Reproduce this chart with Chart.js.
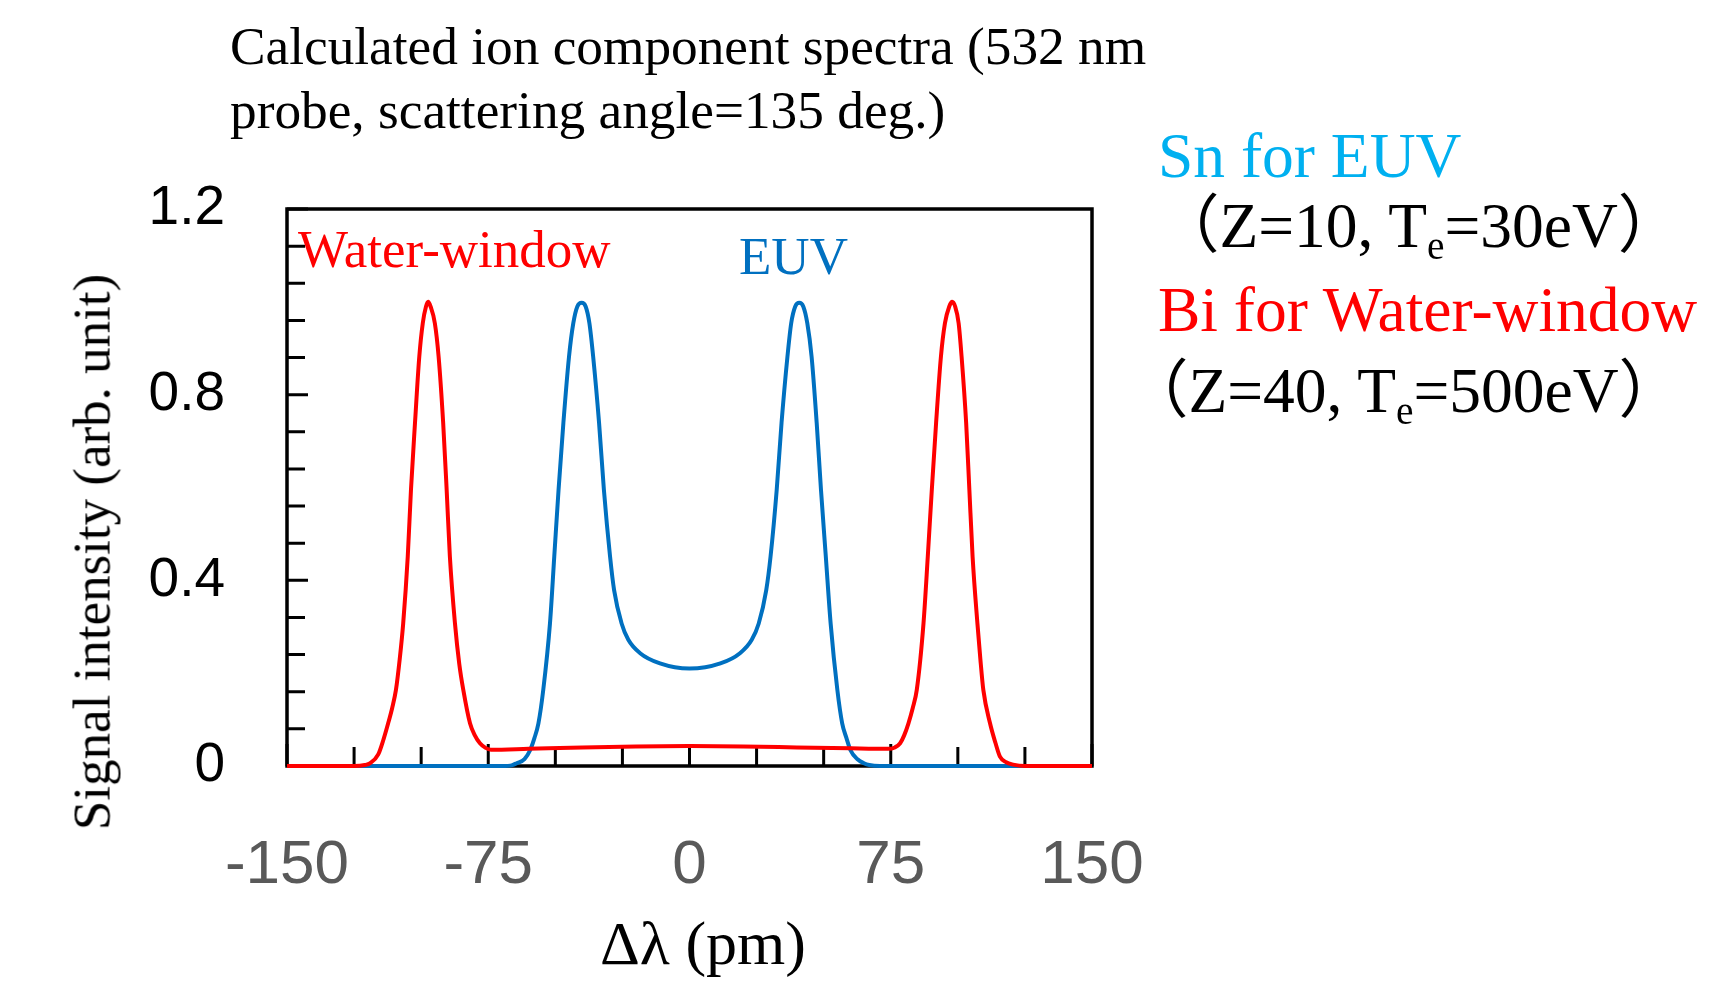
<!DOCTYPE html>
<html>
<head>
<meta charset="utf-8">
<title>Calculated ion component spectra</title>
<script src="https://cdn.jsdelivr.net/npm/chart.js@4.4.1/dist/chart.umd.min.js"></script>
<style>
    body { margin: 0; background: #ffffff; }
    #wrap { position: relative; width: 1718px; height: 992px; overflow: hidden; }
    #chart { position: absolute; left: 0; top: 0; }
    .txt {
        position: absolute;
        white-space: nowrap;
        line-height: 1;
        font-family: "Liberation Serif", "Times New Roman", "Noto Sans CJK JP", serif;
        color: #000000;
    }
    .txt sub { font-size: 0.62em; line-height: 0; vertical-align: -0.3em; }
</style>
</head>
<body>
<div id="wrap">
    <canvas id="chart" width="1718" height="992"></canvas>

    <div class="txt" style="left:230px; top:20px; font-size:53.3px;">Calculated ion component spectra (532 nm</div>
    <div class="txt" style="left:230px; top:84px; font-size:53.3px;">probe, scattering angle=135 deg.)</div>

    <div class="txt" style="left:298px; top:223px; font-size:53px; color:#FF0000;">Water-window</div>
    <div class="txt" style="left:739px; top:230px; font-size:53px; color:#0070C0;">EUV</div>

    <div class="txt" style="left:1158px; top:124px; font-size:63.5px; color:#00B0F0;">Sn for EUV</div>
    <div class="txt" style="left:1156px; top:194px; font-size:63.5px;">（Z=10, T<sub>e</sub>=30eV）</div>
    <div class="txt" style="left:1158px; top:278px; font-size:63.5px; color:#FF0000;">Bi for Water-window</div>
    <div class="txt" style="left:1125px; top:359px; font-size:63.5px;">（Z=40, T<sub>e</sub>=500eV）</div>

    <div class="txt" style="left:600px; top:912px; font-size:62px;">Δλ (pm)</div>
    <div class="txt" style="left:92px; top:552px; font-size:53px; transform:translate(-50%,-50%) rotate(-90deg);">Signal intensity (arb. unit)</div>
</div>

<script>
// ================= DATA =================
// Bi for Water-window (red), delta lambda in pm
const biX = [-150, -125, -121, -119, -116, -114, -112.3, -110.8, -109.4, -108, -106.7, -105.0, -103.8, -102.3, -100.7,
    -99.4, -98.2, -97.4, -96.5, -94.9, -93.5, -91.8, -90.5, -89.3, -87.4, -85.8, -84.3, -81.8, -80, -78.1, -76, -74,
    -60, -40, -20, 0, 20, 40, 60, 74, 76.5, 78.5, 80, 81.6, 83.2, 84.7, 87.2, 88.8, 90.3, 91.9, 93.7, 95.2, 96.8,
    97.9, 99.0, 100.3, 101.4, 103.1, 104.3, 105.5, 107.3, 108.4, 109.5, 112.0, 114, 115.7, 118, 120.6, 125, 150];
const biY = [0, 0, 0.002, 0.006, 0.025, 0.058, 0.092, 0.125, 0.164, 0.23, 0.307, 0.451, 0.595, 0.739, 0.882,
    0.954, 0.99, 1.0, 0.99, 0.954, 0.882, 0.739, 0.595, 0.451, 0.307, 0.22, 0.164, 0.092, 0.066, 0.049, 0.039, 0.035,
    0.037, 0.040, 0.042, 0.043, 0.042, 0.040, 0.038, 0.037, 0.040, 0.049, 0.066, 0.092, 0.125, 0.164, 0.307, 0.451, 0.595,
    0.739, 0.882, 0.954, 0.99, 1.0, 0.99, 0.954, 0.882, 0.739, 0.595, 0.451, 0.307, 0.23, 0.164, 0.092, 0.05,
    0.020, 0.008, 0.003, 0, 0];

// Sn for EUV (blue)
const snX = [-150, -70, -66, -64.4, -61.5, -59.4, -57.8, -56.3, -54.5, -52.0, -50.4, -48.8, -47.0, -44.9, -43.3,
    -41.8, -40.2, -38.7, -37.3, -35.9, -33.7, -31.9, -29.6, -28.1, -25.3, -22.8, -18.4, -11.0, 0, 11.5, 18.8, 23.2,
    25.8, 28.6, 30.2, 32.5, 34.3, 36.5, 37.9, 39.4, 40.9, 42.4, 43.9, 45.5, 47.4, 49.0, 50.8, 52.6, 55.1, 56.9,
    58.5, 60.0, 62.5, 65.0, 67, 71, 150];
const snY = [0, 0, 0.002, 0.006, 0.015, 0.034, 0.06, 0.092, 0.164, 0.307, 0.451, 0.595, 0.739, 0.882, 0.954,
    0.99, 0.998, 0.99, 0.954, 0.882, 0.739, 0.595, 0.451, 0.379, 0.307, 0.272, 0.243, 0.221, 0.210, 0.221, 0.243, 0.272,
    0.307, 0.379, 0.451, 0.595, 0.739, 0.882, 0.954, 0.99, 0.998, 0.99, 0.954, 0.882, 0.739, 0.595, 0.451, 0.307,
    0.164, 0.092, 0.06, 0.034, 0.015, 0.006, 0.002, 0, 0];

// axis settings
const xMin = -150, xMax = 150, xStep = 25;
const xLabelled = [-150, -75, 0, 75, 150];
const yMin = 0, yMax = 1.2, yStep = 0.08;
const yLabelled = [0, 0.4, 0.8, 1.2];

// ================= HELPERS =================
function toPoints(xs, ys) {
    return xs.map((x, i) => ({ x: x, y: ys[i] }));
}

function isLabelled(list, v) {
    return list.some(l => Math.abs(l - v) < 1e-6);
}

// box round the plot + ticks pointing inwards
const frameTicks = {
    id: 'frameTicks',
    beforeDatasetsDraw(chart) {
        const ctx = chart.ctx;
        const a = chart.chartArea;
        const xs = chart.scales.x;
        const ys = chart.scales.y;

        ctx.save();
        ctx.strokeStyle = '#000000';
        ctx.lineWidth = 3.5;
        ctx.strokeRect(a.left, a.top, a.right - a.left, a.bottom - a.top);

        ctx.lineWidth = 3;
        ctx.beginPath();
        xs.ticks.forEach(t => {
            const px = xs.getPixelForValue(t.value);
            const len = isLabelled(xLabelled, t.value) ? 22 : 19;
            ctx.moveTo(px, a.bottom);
            ctx.lineTo(px, a.bottom - len);
        });
        ys.ticks.forEach(t => {
            const py = ys.getPixelForValue(t.value);
            const len = isLabelled(yLabelled, t.value) ? 21 : 18;
            ctx.moveTo(a.left, py);
            ctx.lineTo(a.left + len, py);
        });
        ctx.stroke();
        ctx.restore();
    }
};

// ================= CHART =================
const ctx = document.getElementById('chart').getContext('2d');

new Chart(ctx, {
    type: 'line',
    data: {
        datasets: [
            {
                label: 'Bi for Water-window',
                data: toPoints(biX, biY),
                borderColor: '#FF0000',
                borderWidth: 4,
                pointRadius: 0,
                cubicInterpolationMode: 'monotone',
                clip: false
            },
            {
                label: 'Sn for EUV',
                data: toPoints(snX, snY),
                borderColor: '#0070C0',
                borderWidth: 4,
                pointRadius: 0,
                cubicInterpolationMode: 'monotone',
                clip: false
            }
        ]
    },
    options: {
        responsive: false,
        animation: false,
        layout: {
            padding: { left: 0, top: 209, right: 626, bottom: 0 }
        },
        plugins: {
            legend: { display: false },
            tooltip: { enabled: false }
        },
        scales: {
            x: {
                type: 'linear',
                min: xMin,
                max: xMax,
                afterFit(scale) { scale.height = 226; },
                grid: { display: false, drawTicks: false },
                border: { display: false },
                ticks: {
                    stepSize: xStep,
                    autoSkip: false,
                    maxRotation: 0,
                    padding: 63,
                    color: '#595959',
                    font: { family: '"Liberation Sans", Arial, sans-serif', size: 62 },
                    callback: v => isLabelled(xLabelled, v) ? String(Math.round(v)) : ''
                }
            },
            y: {
                type: 'linear',
                min: yMin,
                max: yMax,
                afterFit(scale) { scale.width = 287; },
                grid: { display: false, drawTicks: false },
                border: { display: false },
                ticks: {
                    stepSize: yStep,
                    autoSkip: false,
                    padding: 62,
                    color: '#000000',
                    font: { family: '"Liberation Sans", Arial, sans-serif', size: 55 },
                    callback: v => {
                        if (!isLabelled(yLabelled, v)) return '';
                        return Math.abs(v) < 1e-6 ? '0' : v.toFixed(1);
                    }
                }
            }
        }
    },
    plugins: [frameTicks]
});
</script>
</body>
</html>
